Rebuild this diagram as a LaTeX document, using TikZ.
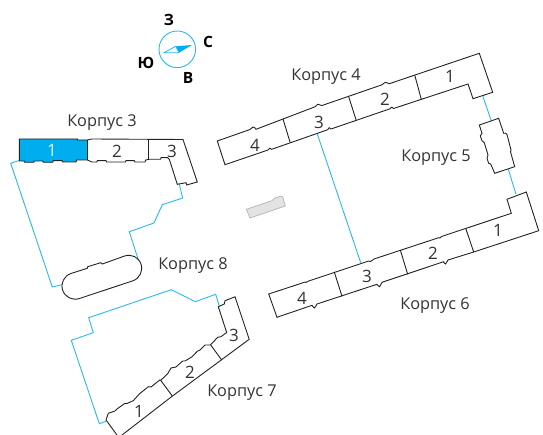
\documentclass[tikz,border=0pt]{standalone}
\usepackage{fontspec}
\setmainfont{Open Sans}
\definecolor{sky}{HTML}{29B8F0}
\definecolor{fillsky}{HTML}{00AEEF}
\definecolor{ink}{HTML}{222222}
\definecolor{txt}{HTML}{333333}
\tikzset{
  x=1pt,y=-1pt,
  wall/.style={draw=ink,line width=0.9pt,line join=miter},
  yard/.style={draw=sky,line width=0.9pt,line join=miter},
  corp/.style={text=txt,font=\fontsize{16.3}{18}\selectfont,inner sep=0pt},
  num/.style={text=txt,font=\fontsize{17}{19}\selectfont,inner sep=0pt},
  side/.style={text=black,font=\fontsize{15.5}{17}\selectfont\bfseries,inner sep=0pt}
}
\begin{document}
\begin{tikzpicture}
\useasboundingbox (0,0) rectangle (543,435);
\clip (0,0) rectangle (543,435);
% yards
\draw[yard] (19.3,160.5) -- (10.7,163.3) -- (52.3,287) -- (62.3,284.7);
\draw[yard] (138.5,260.5) -- (129.3,231.7) -- (154,223) -- (162.3,204.7) -- (182.7,198) -- (179.3,184.3);
\draw[yard] (317.3,134) -- (360.7,262.7);
\draw[yard] (482.7,95.7) -- (491,120);
\draw[yard] (508.3,169.3) -- (516,194.3);
\draw[yard] (106,421.3) -- (99.3,423.7) -- (71.3,340.3) -- (93.3,332.7) -- (88.7,317.7) -- (171.3,289.7) -- (195.3,301.7) -- (215.7,294.3) -- (219.3,306.3);
% compass
\draw[sky,line width=0.9pt] (177.3,49.3) circle[radius=18.3pt];
\fill[fillsky] (192,45) -- (175.7,46.3) -- (179,52.7) -- cycle;
\draw[sky,line width=0.8pt,line join=round] (164,52.7) -- (175.7,46.3) -- (179,52.7) -- cycle;
\node[side] (north) at (208,41.5) {С};
\node[side] (west) at (169,20) {З};
\node[side] (south) at (146,62.5) {Ю};
\node[side] (east) at (188,77.5) {В};
% corpus 3
\fill[fillsky] (19.3,139) -- (77.3,139) -- (77.3,140) -- (87.3,140) -- (87.3,160) -- (76.7,160) -- (76,162) -- (62.7,162) -- (62,160.7) -- (53.3,160.7) -- (52.7,162.3) -- (43.3,162.3) -- (42.7,161) -- (34.3,161) -- (33.7,162.3) -- (24.7,162.3) -- (24,161) -- (19.3,161) -- cycle;
\draw[wall] (19.3,139) -- (77.3,139) -- (77.3,140) -- (87.3,140) -- (91.7,139) -- (183,139.5) -- (197.3,182) -- (186.7,185) -- (186,182.7) -- (177.3,184.3) -- (169.3,159.3) -- (167.7,157.7) -- (161,157.7) -- (160.5,159.3) -- (149,159.3) -- (145.7,160) -- (145,162) -- (135,162) -- (134.3,160.7) -- (126,160.7) -- (125.3,162) -- (106.7,162) -- (106,160.7) -- (97.3,160.7) -- (96.7,162) -- (92,162) -- (87.3,160) -- (76.7,160) -- (76,162) -- (62.7,162) -- (62,160.7) -- (53.3,160.7) -- (52.7,162.3) -- (43.3,162.3) -- (42.7,161) -- (34.3,161) -- (33.7,162.3) -- (24.7,162.3) -- (24,161) -- (19.3,161) -- cycle;
\draw[wall] (87.3,140) -- (87.3,160);
\draw[wall] (148.7,139.5) -- (148.7,159.3);
% corpus 4
\draw[wall] (217.3,141) -- (250,129.5) .. controls (252,129) and (251.5,127) .. (253,127) .. controls (255,126.5) and (254.5,128.5) .. (256,129.3) -- (315.3,106.7) .. controls (317,106) and (316,104.5) .. (318,104.2) .. controls (320,104) and (320,106.2) .. (322,105.5) -- (382,84.8) .. controls (384,84) and (383.5,82.5) .. (385.5,82.3) .. controls (387.5,82) and (387.5,84.2) .. (389.3,83.7) -- (479.3,53.3) -- (492.7,92.3) -- (473,98.7) -- (468,84) -- (393.5,108.5) .. controls (392,106.5) and (391.5,106.8) .. (390,108.8) -- (331,129) .. controls (329.5,127) and (329,127.3) .. (327.5,129.8) -- (271.7,149.3) .. controls (270,147.5) and (269.5,147.8) .. (268,150) -- (225,164.7) -- cycle;
\draw[wall] (283,119) -- (290.3,143);
\draw[wall] (348.7,96.7) -- (356.3,120.7);
\draw[wall] (414.7,75) -- (421.3,99.3);
% corpus 5
\draw[wall] (479.3,125) -- (498.7,118.3) -- (503.7,133.3) -- (505.5,133.2) -- (507,134.5) -- (511,150) -- (510.5,152) -- (514.7,166.7) -- (494.7,173.3) -- (490.7,164) -- (488.7,163.3) -- (487,158.3) -- (488,155) -- (484.3,142.7) -- (482,140.7) -- (480.3,136) -- (482,133.3) -- cycle;
% corpus 6
\draw[wall] (268.7,294) -- (305.3,282) -- (306,282.5) -- (308.7,281) -- (368.7,261) -- (370.5,261.5) .. controls (372,261.5) and (372,259.5) .. (374,259) -- (438.7,237.7) -- (440,238) -- (441.5,236.5) -- (511.3,213.3) -- (507,199.3) -- (526.3,192) -- (538.7,230.7) -- (473.7,252) -- (448,260) .. controls (446.5,260.5) and (447,264) .. (445.5,264) .. controls (443.5,264.5) and (444,261) .. (443.7,261.7) -- (382,282.3) .. controls (380.5,283) and (381,286.5) .. (379.5,286.7) .. controls (377.5,287) and (378,284) .. (377,284.3) -- (317,304) .. controls (315.5,304.5) and (316,308) .. (314.5,308) .. controls (312.5,308.5) and (313,305) .. (312,305.3) -- (277,317.3) -- cycle;
\draw[wall] (334.3,272) -- (342,296.3);
\draw[wall] (400.3,250) -- (407.7,274.3);
\draw[wall] (465.7,228.3) -- (473.7,252);
% corpus 7
\draw[wall] (235,296.8) -- (249.2,339.3) -- (172.5,396) -- (118.8,437.5) -- (106,420) -- (108.3,413.3) -- (115,411) -- (117,409) -- (125,403.3) -- (127,403.5) -- (133.3,400.7) -- (139.3,394) -- (148.3,386.7) -- (151,387) -- (159.8,380) -- (160.7,380.3) -- (167.7,373.7) -- (171,368) -- (176,367) -- (182.7,361) -- (185,361) -- (191.7,357) -- (197.3,351.3) -- (200,350) -- (205,345) -- (207.7,345) -- (210.3,345) -- (217.7,337.3) -- (221,336.7) -- (226.7,332.5) -- (218.3,306.7) -- (224.3,304) -- (225,300.7) -- cycle;
\draw[wall] (160.7,380.3) -- (172.3,396);
\draw[wall] (210.7,345) -- (221.7,360);
% corpus 8
\draw[wall] (87.3,268.3) -- (87.7,266.7) -- (100.7,262.7) -- (102.3,264) [rounded corners=13.2pt] -- (136.9,251.6) -- (145.2,276.7) -- (66.8,302.7) -- (58.5,277.6) [sharp corners] -- (71,273.5) -- cycle;
% grey block
\draw[draw=gray!55,fill=gray!22,line width=0.8pt,line join=round] (246.3,209.3) -- (262,204) -- (272,200.7) -- (274.3,198.3) -- (280.3,196.3) -- (282.7,196.7) -- (285.3,206) -- (250,218) -- cycle;
% labels
\node[corp] (k3) at (102,122.5) {Корпус 3};
\node[corp] (k4) at (326,76.5) {Корпус 4};
\node[corp] (k5) at (436,157.5) {Корпус 5};
\node[corp] (k6) at (435,305.5) {Корпус 6};
\node[corp] (k7) at (242,392.5) {Корпус 7};
\node[corp] (k8) at (193,265.5) {Корпус 8};
\node[num,text=white!85!fillsky] (a1) at (52,150.5) {1};
\node[num] (a2) at (117,151) {2};
\node[num] (a3) at (172,151) {3};
\node[num] (b1) at (450,76) {1};
\node[num] (b2) at (385,99) {2};
\node[num] (b3) at (319,122) {3};
\node[num] (b4) at (255,145) {4};
\node[num] (c1) at (498,230) {1};
\node[num] (c2) at (433,253) {2};
\node[num] (c3) at (367,276) {3};
\node[num] (c4) at (302,298) {4};
\node[num] (d1) at (139,411) {1};
\node[num] (d2) at (190,372) {2};
\node[num] (d3) at (234,335) {3};
\end{tikzpicture}
\end{document}
